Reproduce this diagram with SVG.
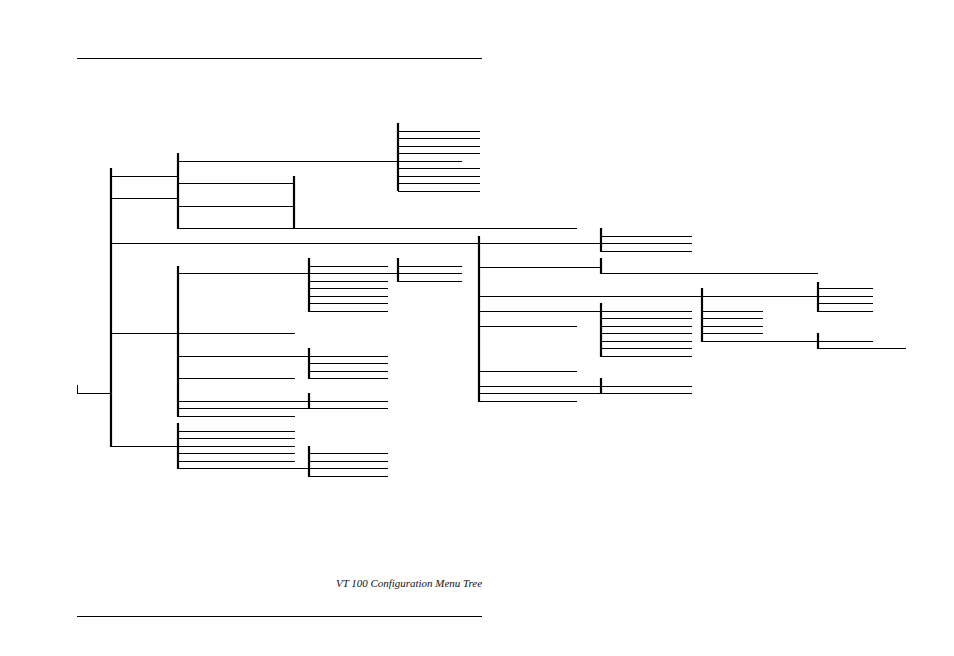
<svg xmlns="http://www.w3.org/2000/svg" width="954" height="656" viewBox="0 0 954 656">
<style>
line{stroke:#000;stroke-width:1;fill:none}
.b{stroke-width:2.2}
.cap{font-family:"Liberation Serif",serif;font-style:italic;font-size:10.5px;fill:#111}
</style>
<rect width="954" height="656" fill="#fff"/>
<g id="rules">
<line x1="77" y1="58.5" x2="482" y2="58.5"/>
<line x1="77" y1="616.5" x2="482" y2="616.5"/>
</g>
<g id="connectors">
<line x1="77.5" y1="385" x2="77.5" y2="394"/>
<line x1="77" y1="393.5" x2="111" y2="393.5"/>
<line x1="111" y1="176.5" x2="178" y2="176.5"/>
<line x1="111" y1="198.5" x2="178" y2="198.5"/>
<line x1="111" y1="243.5" x2="600" y2="243.5"/>
<line x1="111" y1="333.5" x2="295" y2="333.5"/>
<line x1="111" y1="446.5" x2="178" y2="446.5"/>
<line x1="178" y1="161.5" x2="462" y2="161.5"/>
<line x1="178" y1="228.5" x2="577" y2="228.5"/>
<line x1="178" y1="273.5" x2="398" y2="273.5"/>
<line x1="178" y1="356.5" x2="309" y2="356.5"/>
<line x1="178" y1="468.5" x2="309" y2="468.5"/>
<line x1="479" y1="267.5" x2="601" y2="267.5"/>
<line x1="479" y1="296.5" x2="873" y2="296.5"/>
<line x1="479" y1="311.5" x2="601" y2="311.5"/>
<line x1="479" y1="386.5" x2="601" y2="386.5"/>
<line x1="601" y1="273.5" x2="818" y2="273.5"/>
<line x1="702" y1="341.5" x2="818" y2="341.5"/>
</g>
<g id="nodeA"><line class="b" x1="111" y1="168" x2="111" y2="447"/></g>
<g id="nodeB1">
<line class="b" x1="178" y1="153" x2="178" y2="229"/>
<line x1="178" y1="183.5" x2="293" y2="183.5"/>
<line x1="178" y1="206.5" x2="293" y2="206.5"/>
</g>
<g id="nodeC"><line class="b" x1="294" y1="176" x2="294" y2="229"/></g>
<g id="nodeD">
<line class="b" x1="398" y1="123" x2="398" y2="191"/>
<line x1="398" y1="131.5" x2="480" y2="131.5"/>
<line x1="398" y1="138.5" x2="480" y2="138.5"/>
<line x1="398" y1="146.5" x2="480" y2="146.5"/>
<line x1="398" y1="153.5" x2="480" y2="153.5"/>
<line x1="398" y1="168.5" x2="480" y2="168.5"/>
<line x1="398" y1="176.5" x2="480" y2="176.5"/>
<line x1="398" y1="183.5" x2="480" y2="183.5"/>
<line x1="398" y1="191.5" x2="480" y2="191.5"/>
</g>
<g id="nodeB2">
<line class="b" x1="178" y1="266" x2="178" y2="417"/>
<line x1="178" y1="378.5" x2="295" y2="378.5"/>
<line x1="178" y1="401.5" x2="388" y2="401.5"/>
<line x1="178" y1="408.5" x2="388" y2="408.5"/>
<line x1="178" y1="416.5" x2="295" y2="416.5"/>
</g>
<g id="nodeE">
<line class="b" x1="309" y1="258" x2="309" y2="312"/>
<line x1="309" y1="266.5" x2="388" y2="266.5"/>
<line x1="309" y1="281.5" x2="388" y2="281.5"/>
<line x1="309" y1="288.5" x2="388" y2="288.5"/>
<line x1="309" y1="296.5" x2="388" y2="296.5"/>
<line x1="309" y1="303.5" x2="388" y2="303.5"/>
<line x1="309" y1="311.5" x2="388" y2="311.5"/>
</g>
<g id="nodeF">
<line class="b" x1="398" y1="258" x2="398" y2="282"/>
<line x1="398" y1="266.5" x2="462" y2="266.5"/>
<line x1="398" y1="273.5" x2="462" y2="273.5"/>
<line x1="398" y1="281.5" x2="462" y2="281.5"/>
</g>
<g id="nodeG">
<line class="b" x1="309" y1="348" x2="309" y2="379"/>
<line x1="309" y1="356.5" x2="388" y2="356.5"/>
<line x1="309" y1="363.5" x2="388" y2="363.5"/>
<line x1="309" y1="371.5" x2="388" y2="371.5"/>
<line x1="309" y1="378.5" x2="388" y2="378.5"/>
</g>
<g id="nodeH"><line class="b" x1="309" y1="393" x2="309" y2="409"/></g>
<g id="nodeB3">
<line class="b" x1="178" y1="423" x2="178" y2="469"/>
<line x1="178" y1="431.5" x2="295" y2="431.5"/>
<line x1="178" y1="438.5" x2="295" y2="438.5"/>
<line x1="178" y1="446.5" x2="295" y2="446.5"/>
<line x1="178" y1="453.5" x2="295" y2="453.5"/>
<line x1="178" y1="461.5" x2="295" y2="461.5"/>
</g>
<g id="nodeI">
<line class="b" x1="309" y1="446" x2="309" y2="477"/>
<line x1="309" y1="453.5" x2="388" y2="453.5"/>
<line x1="309" y1="461.5" x2="388" y2="461.5"/>
<line x1="309" y1="468.5" x2="388" y2="468.5"/>
<line x1="309" y1="476.5" x2="388" y2="476.5"/>
</g>
<g id="nodeJ">
<line class="b" x1="479" y1="236" x2="479" y2="402"/>
<line x1="479" y1="326.5" x2="577" y2="326.5"/>
<line x1="479" y1="371.5" x2="577" y2="371.5"/>
<line x1="479" y1="393.5" x2="692" y2="393.5"/>
<line x1="479" y1="401.5" x2="577" y2="401.5"/>
</g>
<g id="nodeK">
<line class="b" x1="601" y1="228" x2="601" y2="252"/>
<line x1="601" y1="236.5" x2="692" y2="236.5"/>
<line x1="601" y1="243.5" x2="692" y2="243.5"/>
<line x1="601" y1="251.5" x2="692" y2="251.5"/>
</g>
<g id="nodeL"><line class="b" x1="601" y1="258" x2="601" y2="274"/></g>
<g id="nodeM">
<line class="b" x1="601" y1="303" x2="601" y2="357"/>
<line x1="601" y1="311.5" x2="692" y2="311.5"/>
<line x1="601" y1="318.5" x2="692" y2="318.5"/>
<line x1="601" y1="326.5" x2="692" y2="326.5"/>
<line x1="601" y1="333.5" x2="692" y2="333.5"/>
<line x1="601" y1="341.5" x2="692" y2="341.5"/>
<line x1="601" y1="348.5" x2="692" y2="348.5"/>
<line x1="601" y1="356.5" x2="692" y2="356.5"/>
</g>
<g id="nodeN">
<line class="b" x1="601" y1="378" x2="601" y2="394"/>
<line x1="601" y1="386.5" x2="692" y2="386.5"/>
</g>
<g id="nodeO">
<line class="b" x1="702" y1="288" x2="702" y2="342"/>
<line x1="702" y1="311.5" x2="763" y2="311.5"/>
<line x1="702" y1="318.5" x2="763" y2="318.5"/>
<line x1="702" y1="326.5" x2="763" y2="326.5"/>
<line x1="702" y1="333.5" x2="763" y2="333.5"/>
</g>
<g id="nodeP">
<line class="b" x1="818" y1="282" x2="818" y2="312"/>
<line x1="818" y1="288.5" x2="873" y2="288.5"/>
<line x1="818" y1="303.5" x2="873" y2="303.5"/>
<line x1="818" y1="311.5" x2="873" y2="311.5"/>
</g>
<g id="nodeQ">
<line class="b" x1="818" y1="333" x2="818" y2="349"/>
<line x1="818" y1="341.5" x2="873" y2="341.5"/>
<line x1="818" y1="348.5" x2="906" y2="348.5"/>
</g>
<text class="cap" x="482" y="587" text-anchor="end" textLength="146" lengthAdjust="spacingAndGlyphs">VT 100 Configuration Menu Tree</text>
</svg>
